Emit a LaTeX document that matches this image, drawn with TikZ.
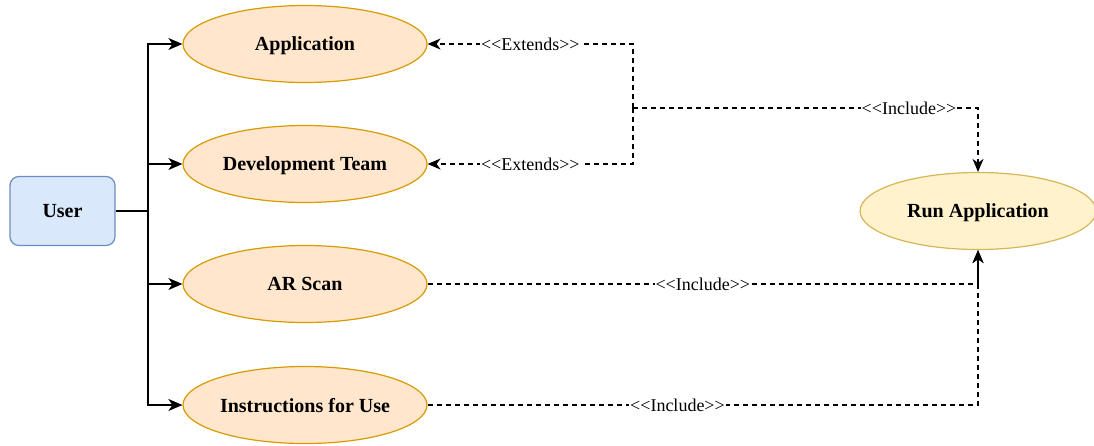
\documentclass[tikz,border=0pt]{standalone}
\usepackage{fontspec}
\setmainfont{Liberation Serif}[Ligatures=TeXOff]
\usetikzlibrary{shapes.geometric,arrows.meta}
\definecolor{usefill}{HTML}{FFE6CC}
\definecolor{usedraw}{HTML}{D79B00}
\definecolor{runfill}{HTML}{FFF2CC}
\definecolor{rundraw}{HTML}{D6B656}
\definecolor{userfill}{HTML}{DAE8FC}
\definecolor{userdraw}{HTML}{6C8EBF}
\tikzset{
  usecase/.style={ellipse, draw=usedraw, fill=usefill, line width=1.2pt, inner sep=0pt,
    minimum width=244pt, minimum height=77pt, text depth=0pt, font=\fontsize{20}{22}\selectfont\bfseries},
  runcase/.style={usecase, draw=rundraw, fill=runfill, minimum width=236pt},
  actor/.style={draw=userdraw, fill=userfill, rounded corners=9pt, line width=1.2pt,
    minimum width=105pt, minimum height=69pt, inner sep=0pt, text depth=0pt, font=\fontsize{20}{22}\selectfont\bfseries},
  solidarrow/.style={line width=1.8pt, -{Stealth[length=14pt,width=12pt,inset=4pt]}},
  dasharrow/.style={line width=1.6pt, dash pattern=on 5pt off 4pt, -{Stealth[length=13pt,width=11pt,inset=4pt]}},
  lbl/.style={fill=white, inner sep=1pt, font=\fontsize{18}{20}\selectfont}
}
\begin{document}
\begin{tikzpicture}[x=1pt,y=-1pt]
\useasboundingbox (0,0) rectangle (1094,445);
\node[actor] (user) at (62.5,211) {User};
\node[usecase] (app) at (305,44) {Application};
\node[usecase] (dev) at (305,164) {Development Team};
\node[usecase] (ar) at (305,284) {AR Scan};
\node[usecase] (instr) at (305,405) {Instructions for Use};
\node[runcase] (run) at (978,211) {Run Application};
\coordinate (trunk) at (148,211);
\coordinate (j) at (633,108);
\draw[line width=1.8pt] (user.east) -- (trunk);
\draw[solidarrow] (trunk) |- (app.west);
\draw[solidarrow] (trunk) |- (dev.west);
\draw[solidarrow] (trunk) |- (ar.west);
\draw[solidarrow] (trunk) |- (instr.west);
\draw[dasharrow] (j) |- (app.east) node[lbl, pos=0.75] {<<Extends>>};
\draw[dasharrow] (j) |- (dev.east) node[lbl, pos=0.75] {<<Extends>>};
\draw[dasharrow] (j) -| (run.north) node[lbl, pos=0.4] {<<Include>>};
\draw[dasharrow] (ar.east) -| (run.south) node[lbl, pos=0.25] {<<Include>>};
\draw[dasharrow] (instr.east) -| (run.south) node[lbl, pos=0.227] {<<Include>>};
\end{tikzpicture}
\end{document}
